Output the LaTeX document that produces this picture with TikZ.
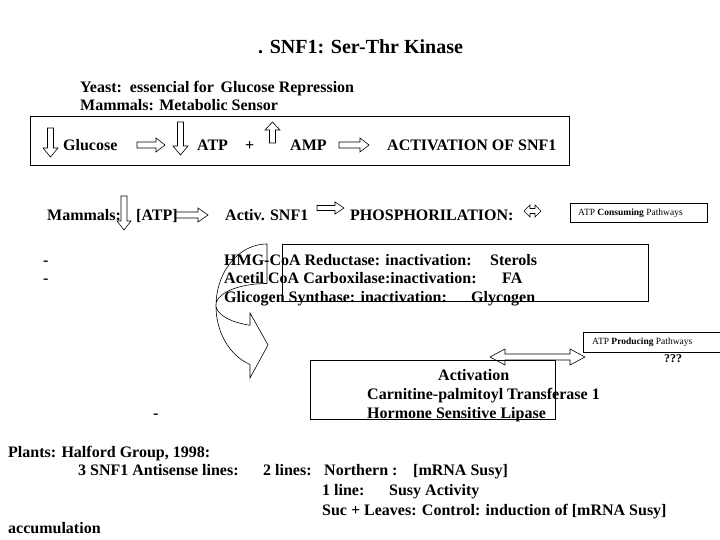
\documentclass[tikz,border=0pt]{standalone}
\usepackage{fontspec}
\setmainfont{Liberation Serif}[BoldFont={Liberation Serif Bold},ItalicFont={Liberation Serif Italic}]
\newcommand{\blkarrow}[7]{% x, y, rotation, length, shaft half, head half, head length
  \begin{scope}[shift={(#1,#2)}, rotate=#3]
    \draw[barrow] (0,-#5) -- ({#4-#7},-#5) -- ({#4-#7},-#6) -- (#4,0) -- ({#4-#7},#6) -- ({#4-#7},#5) -- (0,#5) -- cycle;
  \end{scope}}
\newcommand{\dblarrow}[6]{% x, y, length, shaft half, head half, head length
  \begin{scope}[shift={(#1,#2)}]
    \draw[barrow] (0,0) -- (#6,-#5) -- (#6,-#4) -- ({#3-#6},-#4) -- ({#3-#6},-#5) -- (#3,0) -- ({#3-#6},#5) -- ({#3-#6},#4) -- (#6,#4) -- (#6,#5) -- cycle;
  \end{scope}}
\begin{document}
\begin{tikzpicture}[x=1pt,y=-1pt,
  txt/.style={anchor=base west, inner sep=0pt, font=\bfseries\fontsize{16}{18}\selectfont},
  ttl/.style={anchor=base west, inner sep=0pt, font=\bfseries\fontsize{20}{22}\selectfont},
  small/.style={anchor=base west, inner sep=0pt, font=\fontsize{9.5}{11}\selectfont},
  frame/.style={draw, line width=0.8pt, anchor=north west, inner sep=0pt},
  barrow/.style={draw, line width=0.6pt},
]
\useasboundingbox (0,0) rectangle (720,540);

% title and header
\node[ttl] (title) at (258,53.5) {. SNF1: Ser-Thr Kinase};
\node[txt] (yeast) at (80,92.5) {Yeast:\, essencial for\, Glucose Repression};
\node[txt] (mamm1) at (80,110.5) {Mammals: Metabolic Sensor};

% row 1
\node[frame, minimum width=539pt, minimum height=49pt] (box1) at (30,116) {};
\node[txt] (glu) at (63,150.5) {Glucose};
\node[txt] (atp) at (197,150.5) {ATP};
\node[txt] (plus) at (245,150.5) {+};
\node[txt] (amp) at (290,150.5) {AMP};
\node[txt] (actsnf) at (387,150.5) {ACTIVATION OF SNF1};
\blkarrow{50.5}{128}{-90}{29}{3}{7.5}{9}
\blkarrow{137}{145}{0}{28}{3}{7}{9}
\blkarrow{180.5}{122}{-90}{33}{3}{7.5}{9}
\blkarrow{272.5}{143}{90}{21}{3}{7.5}{8}
\blkarrow{339}{145}{0}{30}{3}{7}{9}

% row 2
\node[txt] (mamm2) at (47,220.5) {Mammals:};
\node[txt] (catp) at (136,220.5) {[ATP]};
\node[txt] (activ) at (225,220.5) {Activ. SNF1};
\node[txt] (phos) at (350,220.5) {PHOSPHORILATION:};
\blkarrow{124}{196}{-90}{34}{3}{7}{9}
\blkarrow{175}{215}{0}{33}{3}{7}{10}
\blkarrow{317}{208}{0}{27}{2.5}{6}{9}
\dblarrow{524}{211}{17}{2.5}{6}{6}
\node[frame, minimum width=137pt, minimum height=19pt] (consbox) at (570,203) {};
\node[small] (cons) at (578,215.5) {ATP \textbf{Consuming} Pathways};

% HMG block
\node[txt] (dash1) at (43,265.5) {-};
\node[txt] (dash2) at (43,283.5) {-};
\node[frame, minimum width=366pt, minimum height=57pt] (box2) at (282,244) {};
\node[txt] (l1) at (224,265.5) {HMG-CoA Reductase: inactivation:};
\node[txt] (l1b) at (490,265.5) {Sterols};
\node[txt] (l2) at (224,283.5) {Acetil CoA Carboxilase:inactivation:};
\node[txt] (l2b) at (502,283.5) {FA};
\node[txt] (l3) at (224,302) {Glicogen Synthase: inactivation:};
\node[txt] (l3b) at (471,302) {Glycogen};

% curved arrow
\draw[barrow] (267,244) -- (267,283.5)
  plot[domain=270:109.5, samples=50] ({267+51*cos(\x)},{305+21.5*sin(\x)})
  -- (250,313) -- (268,345) -- (250,378) -- (250,364.5)
  plot[domain=109.5:270, samples=50] ({267+51*cos(\x)},{306+62*sin(\x)});

% producing
\node[frame, minimum width=140pt, minimum height=20pt] (prodbox) at (583,332) {};
\node[small] (prod) at (592,344.5) {ATP \textbf{Producing} Pathways};
\node[anchor=base west, inner sep=0pt, font=\bfseries\fontsize{12}{13}\selectfont] (qqq) at (664,362) {???};
\dblarrow{490}{357}{95}{3}{8}{15}

% activation box
\node[frame, minimum width=245pt, minimum height=59pt] (box3) at (310,360) {};
\node[txt] (act) at (438,380.5) {Activation};
\node[txt] (cpt) at (367,399.5) {Carnitine-palmitoyl Transferase 1};
\node[txt] (hsl) at (367,418.5) {Hormone Sensitive Lipase};
\node[txt] (dash3) at (153,418) {-};

% plants
\node[txt] (pl1) at (8,457) {Plants: Halford Group, 1998:};
\node[txt] (pl2) at (78,475) {3 SNF1 Antisense lines:};
\node[txt] (pl3) at (263,475) {2 lines:};
\node[txt] (pl3b) at (324,475) {Northern :};
\node[txt] (pl3c) at (413,475) {[mRNA Susy]};
\node[txt] (pl4) at (322,495) {1 line:};
\node[txt] (pl4b) at (389,495) {Susy Activity};
\node[txt] (pl5) at (322,515) {Suc + Leaves: Control: induction of [mRNA Susy]};
\node[txt] (pl6) at (8,533) {accumulation};
\end{tikzpicture}
\end{document}
